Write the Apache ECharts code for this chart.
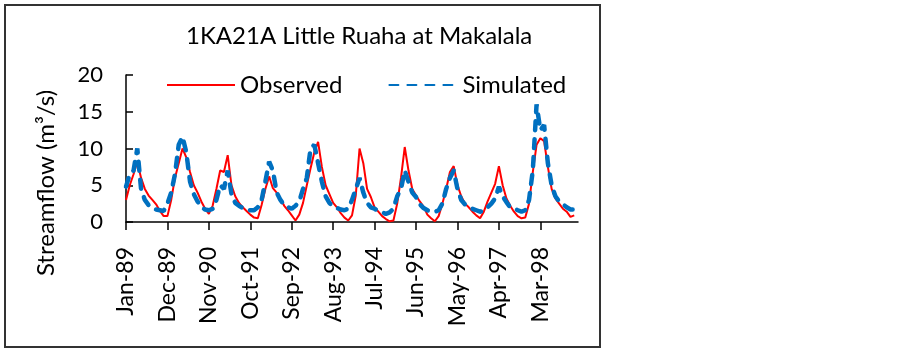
<!DOCTYPE html>
<html>
    <head>
        <meta charset="utf-8">
        <script src="https://cdn.jsdelivr.net/npm/echarts@6/dist/echarts.min.js"></script>
        <style>
            html, body {
                margin: 0;
                padding: 0;
                background: #fff;
            }
            #main {
                width: 903px;
                height: 350px;
            }
        </style>
    </head>
    <body>
        <div id="main"></div>

        <script>

            // monthly flows Jan-89 .. Dec-98 (m3/s)
            var observed = [
                3.0, 5.0, 6.5, 8.2, 6.0, 4.5, 3.6, 3.0, 2.4, 1.5, 0.8, 0.8,
                3.0, 6.0, 8.0, 10.0, 8.8, 6.8, 5.0, 4.0, 2.8, 1.8, 1.1, 2.2,
                4.5, 7.0, 6.8, 9.1, 5.0, 3.5, 2.6, 2.0, 1.5, 1.0, 0.6, 0.5,
                2.3, 4.5, 6.2, 4.6, 4.0, 3.2, 2.2, 1.6, 0.9, 0.2, 1.0, 2.6,
                5.0, 7.3, 9.5, 10.9, 7.5, 5.0, 3.8, 2.6, 2.0, 1.2, 0.6, 0.2,
                0.9, 3.6, 10.0, 8.0, 4.5, 3.4, 2.0, 1.4, 0.8, 0.4, 0.1, 0.2,
                2.5, 6.0, 10.2, 7.0, 4.5, 3.6, 2.8, 2.1, 1.0, 0.5, 0.1, 0.8,
                2.5, 4.5, 6.8, 7.6, 5.0, 3.5, 2.5, 2.0, 1.4, 0.9, 0.5, 1.4,
                2.8, 4.0, 5.2, 7.6, 5.0, 3.2, 2.2, 1.4, 0.8, 0.5, 0.6, 2.5,
                6.8, 10.5, 11.4, 11.0, 7.5, 4.5, 3.2, 2.5, 1.8, 1.4, 0.7, 0.9
            ];

            var simulated = [
                4.8, 6.5, 7.0, 10.0, 4.5, 3.0, 2.3, 1.9, 1.7, 1.6, 1.5, 2.5,
                4.0, 6.5, 10.5, 11.6, 9.5, 5.5, 3.8, 2.8, 2.0, 1.7, 1.6, 1.8,
                3.0, 5.0, 4.5, 7.0, 3.8, 2.6, 2.2, 1.9, 1.7, 1.6, 1.6, 2.0,
                3.0, 5.5, 8.2, 7.0, 4.0, 3.0, 2.3, 2.0, 1.8, 2.2, 2.8, 4.5,
                6.0, 10.0, 10.5, 8.0, 5.5, 3.5, 2.6, 2.1, 1.9, 1.7, 1.6, 1.8,
                3.0, 4.5, 6.0, 4.0, 2.6, 2.0, 1.8, 1.5, 1.3, 1.1, 1.3, 1.8,
                3.5, 4.5, 7.0, 5.5, 4.0, 3.4, 2.4, 1.9, 1.6, 1.4, 1.4, 1.6,
                2.5, 4.5, 6.0, 7.0, 4.5, 3.0, 2.4, 2.1, 1.8, 1.6, 1.4, 1.5,
                2.0, 2.5, 3.2, 4.8, 3.5, 2.7, 2.0, 1.8, 1.6, 1.4, 1.6, 3.0,
                7.0, 16.0, 12.5, 13.2, 8.0, 5.0, 3.5, 2.8, 2.4, 2.0, 1.7, 1.7
            ];

            var monthNames = ['Jan', 'Feb', 'Mar', 'Apr', 'May', 'Jun',
                'Jul', 'Aug', 'Sep', 'Oct', 'Nov', 'Dec'];
            var firstYear = 89;
            var labelStep = 11;

            // one category per month, plus one so the axis runs to the end of Dec-98
            var months = [];
            for (var i = 0; i <= observed.length; i++) {
                var yy = (firstYear + Math.floor(i / 12)) % 100;
                months.push(monthNames[i % 12] + '-' + (yy < 10 ? '0' + yy : yy));
            }

            var showTick = function (idx) {
                return idx % labelStep === 0 && idx < observed.length;
            };

            var font = 'Lato';
            var chart = echarts.init(document.getElementById('main'));

            chart.setOption({
                animation: false,
                title: {
                    text: '1KA21A Little Ruaha at Makalala',
                    left: 186,
                    top: 24,
                    padding: 0,
                    textStyle: {
                        fontFamily: font,
                        fontSize: 24,
                        fontWeight: 'normal',
                        color: '#000'
                    }
                },
                legend: {
                    left: 166,
                    top: 73,
                    itemWidth: 68,
                    itemHeight: 14,
                    itemGap: 46,
                    padding: 0,
                    itemStyle: {opacity: 0},
                    textStyle: {
                        fontFamily: font,
                        fontSize: 24,
                        color: '#000'
                    },
                    data: ['Observed', 'Simulated']
                },
                grid: {
                    left: 126,
                    right: 325,
                    top: 75,
                    bottom: 128,
                    outerBoundsMode: 'none'
                },
                xAxis: {
                    type: 'category',
                    boundaryGap: false,
                    data: months,
                    axisLine: {
                        lineStyle: {color: '#000', width: 1.5}
                    },
                    axisTick: {
                        interval: showTick,
                        length: 8,
                        lineStyle: {color: '#000', width: 1.5}
                    },
                    axisLabel: {
                        interval: showTick,
                        rotate: 90,
                        margin: 25,
                        fontFamily: font,
                        fontSize: 23,
                        color: '#000'
                    },
                    splitLine: {show: false}
                },
                yAxis: {
                    type: 'value',
                    min: 0,
                    max: 20,
                    interval: 5,
                    axisLine: {
                        show: true,
                        lineStyle: {color: '#000', width: 1.5}
                    },
                    axisTick: {
                        show: true,
                        inside: true,
                        length: 7,
                        lineStyle: {color: '#000', width: 1.5}
                    },
                    axisLabel: {
                        margin: 23,
                        fontFamily: font,
                        fontSize: 22,
                        color: '#000'
                    },
                    splitLine: {show: false}
                },
                graphic: [{
                    type: 'rect',
                    shape: {x: 5, y: 5, width: 595, height: 342},
                    style: {fill: 'none', stroke: '#333', lineWidth: 2}
                }, {
                    type: 'text',
                    x: 46,
                    y: 183,
                    rotation: Math.PI / 2,
                    style: {
                        text: 'Streamflow (m³/s)',
                        align: 'center',
                        verticalAlign: 'middle',
                        fontFamily: font,
                        fontSize: 24,
                        fill: '#000'
                    }
                }],
                series: [{
                    name: 'Observed',
                    type: 'line',
                    data: observed,
                    symbol: 'none',
                    color: '#ff0000',
                    lineStyle: {color: '#ff0000', width: 2}
                }, {
                    name: 'Simulated',
                    type: 'line',
                    data: simulated,
                    symbol: 'none',
                    color: '#0070c0',
                    lineStyle: {
                        color: '#0070c0',
                        width: 4.5,
                        type: [9, 9],
                        cap: 'round'
                    }
                }]
            });

        </script>
    </body>
</html>
